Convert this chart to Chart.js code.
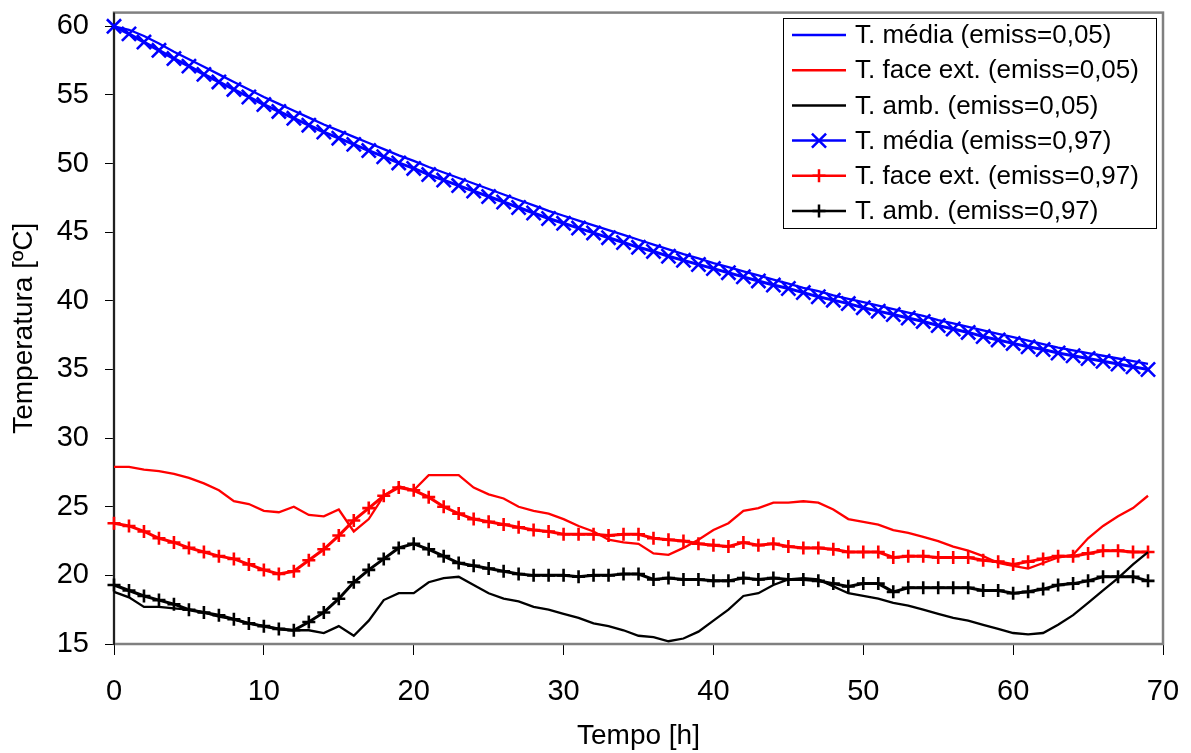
<!DOCTYPE html>
<html lang="pt">
<head>
  <meta charset="UTF-8" />
  <title>Temperatura vs Tempo</title>
  <script src="https://cdn.jsdelivr.net/npm/chart.js"></script>
  <style>
    html, body { margin: 0; padding: 0; background: #ffffff; }
    #wrap { width: 1191px; height: 753px; }
  </style>
</head>
<body>
  <div id="wrap"><canvas id="chart" width="1191" height="753"></canvas></div>

  <script>
    // time axis (hours)
    const hours = [0,1,2,3,4,5,6,7,8,9,10,11,12,13,14,15,16,17,18,19,20,21,22,23,24,25,26,27,28,29,
      30,31,32,33,34,35,36,37,38,39,40,41,42,43,44,45,46,47,48,49,50,51,52,53,54,55,56,57,58,59,
      60,61,62,63,64,65,66,67,68,69];
    const xTicks = [0, 10, 20, 30, 40, 50, 60, 70];
    const yTicks = [15, 20, 25, 30, 35, 40, 45, 50, 55, 60];

    // emiss = 0,05
    const mediaE05 = [60.0,59.75,59.3,58.75,58.15,57.6,57.05,56.5,55.95,55.4,54.85,54.35,53.85,53.35,52.85,52.4,51.95,51.5,51.05,50.6,
      50.2,49.75,49.35,48.95,48.55,48.15,47.75,47.35,46.95,46.55,46.2,45.85,45.5,45.15,44.8,44.45,44.1,43.75,43.4,43.1,
      42.75,42.45,42.15,41.85,41.55,41.25,40.95,40.7,40.4,40.15,39.9,39.65,39.4,39.15,38.9,38.6,38.35,38.1,37.85,37.6,
      37.35,37.1,36.85,36.6,36.4,36.2,36.0,35.8,35.6,35.4];
    const faceE05 = [27.9,27.9,27.7,27.6,27.4,27.1,26.7,26.2,25.4,25.2,24.7,24.6,25.0,24.4,24.3,24.8,23.2,24.1,25.8,26.5,
      26.2,27.3,27.3,27.3,26.4,25.9,25.6,25.0,24.7,24.5,24.1,23.6,23.2,22.6,22.4,22.3,21.6,21.5,22.0,22.6,
      23.3,23.8,24.7,24.9,25.3,25.3,25.4,25.3,24.8,24.1,23.9,23.7,23.3,23.1,22.8,22.5,22.1,21.8,21.4,20.9,
      20.7,20.5,20.9,21.3,21.5,22.7,23.6,24.3,24.9,25.8];
    const ambE05 = [18.8,18.4,17.7,17.7,17.6,17.5,17.3,17.0,16.8,16.5,16.3,16.1,16.0,16.0,15.8,16.3,15.6,16.7,18.2,18.7,
      18.7,19.5,19.8,19.9,19.3,18.7,18.3,18.1,17.7,17.5,17.2,16.9,16.5,16.3,16.0,15.6,15.5,15.2,15.4,15.9,
      16.7,17.5,18.5,18.7,19.3,19.7,19.8,19.7,19.2,18.7,18.5,18.3,18.0,17.8,17.5,17.2,16.9,16.7,16.4,16.1,
      15.8,15.7,15.8,16.4,17.1,18.0,18.9,19.8,20.8,21.7];

    // emiss = 0,97
    const mediaE97 = [60.0,59.45,58.85,58.25,57.65,57.1,56.5,55.95,55.4,54.85,54.3,53.8,53.3,52.8,52.3,51.85,51.4,50.95,50.5,50.05,
      49.65,49.2,48.8,48.4,48.0,47.6,47.2,46.8,46.4,46.0,45.65,45.3,44.95,44.6,44.25,43.9,43.6,43.25,42.95,42.65,
      42.35,42.05,41.75,41.45,41.15,40.9,40.6,40.3,40.05,39.8,39.5,39.25,39.0,38.75,38.5,38.2,37.95,37.7,37.4,37.15,
      36.9,36.65,36.45,36.2,36.0,35.8,35.6,35.4,35.2,35.0];
    const faceE97 = [23.8,23.6,23.2,22.7,22.4,22.0,21.7,21.4,21.2,20.8,20.4,20.1,20.3,21.1,21.9,22.9,24.0,24.9,25.8,26.4,
      26.2,25.7,25.0,24.5,24.1,23.9,23.7,23.5,23.3,23.2,23.0,23.0,23.0,22.9,23.0,23.0,22.7,22.6,22.5,22.3,
      22.2,22.1,22.4,22.2,22.3,22.1,22.0,22.0,21.9,21.7,21.7,21.7,21.3,21.4,21.4,21.3,21.3,21.3,21.1,21.0,
      20.8,21.0,21.2,21.4,21.4,21.6,21.8,21.8,21.7,21.7];
    const ambE97 = [19.3,18.9,18.5,18.2,17.9,17.5,17.3,17.1,16.8,16.5,16.3,16.1,16.0,16.6,17.3,18.3,19.5,20.4,21.2,22.0,
      22.3,21.9,21.4,20.9,20.7,20.5,20.3,20.1,20.0,20.0,20.0,19.9,20.0,20.0,20.1,20.1,19.7,19.8,19.7,19.7,
      19.6,19.6,19.8,19.7,19.8,19.7,19.7,19.6,19.4,19.2,19.4,19.4,18.8,19.1,19.1,19.1,19.1,19.1,18.9,18.9,
      18.7,18.8,19.0,19.3,19.4,19.6,19.9,19.9,19.9,19.6];

    const FONT = "'Liberation Sans', Arial, sans-serif";
    const pts = vals => hours.map((h, i) => ({ x: h, y: vals[i] }));

    function plain(label, vals, color) {
      return { label, data: pts(vals), borderColor: color, backgroundColor: color,
        borderWidth: 2.3, pointRadius: 0, pointHoverRadius: 0, tension: 0, clip: false, pointStyle: false };
    }
    function marked(label, vals, color, style, r) {
      return { label, data: pts(vals), borderColor: color, backgroundColor: color,
        borderWidth: 3, pointStyle: style, pointRadius: r, pointBorderWidth: 2.6,
        pointBorderColor: color, tension: 0, clip: false };
    }

    // gray plot frame, black value axis
    const frame = {
      id: 'frame',
      beforeDatasetsDraw(chart) {
        const { ctx, chartArea: a } = chart;
        ctx.save();
        ctx.strokeStyle = '#808080';
        ctx.lineWidth = 2.5;
        ctx.strokeRect(a.left, a.top, a.right - a.left, a.bottom - a.top);
        ctx.strokeStyle = '#000';
        ctx.lineWidth = 1.5;
        ctx.beginPath();
        ctx.moveTo(a.left, a.top);
        ctx.lineTo(a.left, a.bottom + 1);
        ctx.stroke();
        ctx.restore();
      }
    };

    // boxed legend drawn inside the plot
    const boxLegend = {
      id: 'boxLegend',
      afterDatasetsDraw(chart, args, opts) {
        const { ctx } = chart;
        const sets = chart.data.datasets;
        ctx.save();
        ctx.fillStyle = '#fff';
        ctx.fillRect(opts.x, opts.y, opts.w, opts.h);
        ctx.strokeStyle = '#000';
        ctx.lineWidth = 1;
        ctx.strokeRect(opts.x + 0.5, opts.y + 0.5, opts.w, opts.h);
        ctx.font = opts.font;
        ctx.textBaseline = 'middle';
        sets.forEach((ds, i) => {
          const cy = opts.y + opts.first + i * opts.step;
          const x0 = opts.x + 9, x1 = x0 + 54;
          ctx.strokeStyle = ds.borderColor;
          ctx.lineWidth = 2.5;
          ctx.beginPath(); ctx.moveTo(x0, cy); ctx.lineTo(x1, cy); ctx.stroke();
          if (ds.pointStyle) {
            Chart.helpers.drawPoint(ctx, { pointStyle: ds.pointStyle, radius: ds.pointRadius,
              borderWidth: ds.pointBorderWidth, rotation: 0 }, (x0 + x1) / 2, cy);
          }
          ctx.fillStyle = '#000';
          ctx.fillText(ds.label, x1 + 9, cy + 1);
        });
        ctx.restore();
      }
    };

    new Chart(document.getElementById('chart'), {
      type: 'line',
      data: {
        datasets: [
          plain('T. média (emiss=0,05)', mediaE05, '#0000ff'),
          plain('T. face ext. (emiss=0,05)', faceE05, '#ff0000'),
          plain('T. amb. (emiss=0,05)', ambE05, '#000000'),
          marked('T. média (emiss=0,97)', mediaE97, '#0000ff', 'crossRot', 10),
          marked('T. face ext. (emiss=0,97)', faceE97, '#ff0000', 'cross', 6.5),
          marked('T. amb. (emiss=0,97)', ambE97, '#000000', 'cross', 6.5)
        ]
      },
      options: {
        responsive: false,
        animation: false,
        layout: { padding: { top: 7, right: 28, left: 0, bottom: 0 } },
        plugins: {
          legend: { display: false },
          tooltip: { enabled: false },
          boxLegend: { x: 783, y: 18, w: 373, h: 210, first: 17, step: 35.2, font: '26px ' + FONT }
        },
        scales: {
          x: {
            type: 'linear', min: 0, max: 70,
            afterFit(s) { s.height = 109; s.paddingLeft = 0; s.paddingRight = 0; },
            afterBuildTicks(s) { s.ticks = xTicks.map(v => ({ value: v })); },
            grid: { drawOnChartArea: false, drawTicks: true, tickLength: 11, color: '#000', lineWidth: 1 },
            border: { display: false },
            ticks: { color: '#000', font: { family: FONT, size: 29 }, padding: 20, maxRotation: 0 },
            title: { display: true, text: 'Tempo [h]', color: '#000', font: { family: FONT, size: 28 }, padding: { top: 0, bottom: 0 } }
          },
          y: {
            min: 15, max: 61,
            afterFit(s) { s.width = 114; s.paddingTop = 0; s.paddingBottom = 0; },
            afterBuildTicks(s) { s.ticks = yTicks.map(v => ({ value: v })); },
            grid: { drawOnChartArea: false, drawTicks: true, tickLength: 9, color: '#000', lineWidth: 1 },
            border: { display: false },
            ticks: { color: '#000', font: { family: FONT, size: 29 }, padding: 16 },
            title: { display: true, text: 'Temperatura [ºC]', color: '#000', font: { family: FONT, size: 28 }, padding: { top: 7, bottom: 0 } }
          }
        }
      },
      plugins: [frame, boxLegend]
    });
  </script>
</body>
</html>
